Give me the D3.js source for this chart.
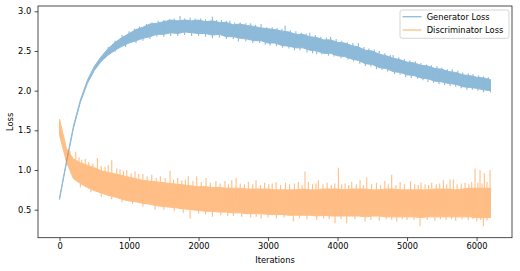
<!DOCTYPE html>
<html>
<head>
<meta charset="utf-8">
<script src="https://cdn.jsdelivr.net/npm/d3@7"></script>
<style>
    body { margin: 0; background: #fff; }
    #chart { width: 520px; height: 271px; }
    text { font-family: "DejaVu Sans", sans-serif; fill: #000; }
</style>
</head>
<body>
<div id="chart"></div>
<script>
// iteration grid the envelopes were read at
const iterations = [0, 100, 200, 300, 400, 500, 600, 700, 800, 900,
    1000, 1100, 1200, 1300, 1400, 1500, 1600, 1700, 1800, 1900,
    2000, 2100, 2200, 2300, 2400, 2500, 2600, 2700, 2800, 2900,
    3000, 3100, 3200, 3300, 3400, 3500, 3600, 3700, 3800, 3900,
    4000, 4100, 4200, 4300, 4400, 4500, 4600, 4700, 4800, 4900,
    5000, 5100, 5200, 5300, 5400, 5500, 5600, 5700, 5800, 5900,
    6000, 6100, 6200];

// generator loss, upper / lower edge of the noisy band
const genHigh = [0.65, 1.11, 1.555, 1.885, 2.13, 2.305, 2.43, 2.53, 2.61, 2.67,
    2.72, 2.77, 2.80, 2.84, 2.85, 2.87, 2.89, 2.88, 2.89, 2.88,
    2.89, 2.87, 2.88, 2.86, 2.86, 2.83, 2.84, 2.82, 2.81, 2.79,
    2.78, 2.77, 2.75, 2.74, 2.71, 2.71, 2.68, 2.67, 2.64, 2.64,
    2.61, 2.60, 2.57, 2.55, 2.51, 2.50, 2.46, 2.44, 2.41, 2.39,
    2.36, 2.35, 2.32, 2.31, 2.28, 2.27, 2.24, 2.23, 2.20, 2.19,
    2.17, 2.16, 2.14];
const genLow = [0.63, 1.09, 1.525, 1.855, 2.09, 2.255, 2.37, 2.45, 2.51, 2.56,
    2.60, 2.63, 2.66, 2.68, 2.71, 2.71, 2.73, 2.72, 2.74, 2.73,
    2.72, 2.72, 2.70, 2.71, 2.68, 2.68, 2.66, 2.65, 2.63, 2.63,
    2.60, 2.60, 2.57, 2.56, 2.54, 2.54, 2.51, 2.50, 2.47, 2.47,
    2.44, 2.43, 2.40, 2.38, 2.34, 2.33, 2.29, 2.28, 2.24, 2.23,
    2.20, 2.19, 2.16, 2.15, 2.12, 2.11, 2.09, 2.08, 2.05, 2.04,
    2.03, 2.01, 2.00];

// discriminator loss, upper / lower edge of the dense band
const discHigh = [1.64, 1.27, 1.14, 1.09, 1.06, 1.03, 0.99, 0.97, 0.95, 0.93,
    0.91, 0.89, 0.87, 0.86, 0.85, 0.84, 0.83, 0.82, 0.81, 0.80,
    0.79, 0.79, 0.78, 0.78, 0.77, 0.77, 0.77, 0.76, 0.76, 0.76,
    0.76, 0.75, 0.75, 0.75, 0.75, 0.76, 0.75, 0.75, 0.76, 0.76,
    0.76, 0.75, 0.76, 0.76, 0.76, 0.75, 0.75, 0.76, 0.76, 0.75,
    0.75, 0.75, 0.75, 0.75, 0.76, 0.76, 0.76, 0.75, 0.76, 0.77,
    0.77, 0.77, 0.77];
const discLow = [1.44, 1.10, 0.89, 0.83, 0.78, 0.74, 0.71, 0.68, 0.66, 0.63,
    0.61, 0.60, 0.58, 0.57, 0.55, 0.54, 0.53, 0.52, 0.51, 0.50,
    0.49, 0.48, 0.48, 0.47, 0.47, 0.46, 0.46, 0.45, 0.45, 0.45,
    0.44, 0.44, 0.44, 0.43, 0.43, 0.43, 0.43, 0.42, 0.43, 0.42,
    0.42, 0.42, 0.42, 0.42, 0.41, 0.42, 0.42, 0.41, 0.41, 0.41,
    0.41, 0.41, 0.40, 0.41, 0.41, 0.41, 0.41, 0.41, 0.41, 0.41,
    0.40, 0.40, 0.40];

// single spikes sticking out of the bands: [iteration, loss]
const genSpikesUp = [[700, 2.55], [800, 2.63], [900, 2.70], [1000, 2.75], [1080, 2.78],
    [1150, 2.81], [1250, 2.84], [1330, 2.86], [1420, 2.88], [1500, 2.89], [1580, 2.90],
    [1650, 2.91], [1734, 2.94], [1800, 2.91], [1880, 2.92], [1950, 2.91], [2030, 2.91],
    [2100, 2.90], [2199, 2.93], [2260, 2.89], [2330, 2.89], [2400, 2.88], [2450, 2.88],
    [2520, 2.86], [2600, 2.86], [2680, 2.85], [2750, 2.85], [2820, 2.83], [2900, 2.84],
    [2980, 2.80], [3060, 2.80], [3130, 2.79], [3200, 2.78], [3245, 2.82], [3320, 2.76],
    [3400, 2.75], [3480, 2.73], [3550, 2.72], [3600, 2.73], [3680, 2.70], [3760, 2.68],
    [3840, 2.67], [3900, 2.68], [3980, 2.65], [4060, 2.63], [4140, 2.61], [4220, 2.60],
    [4300, 2.60], [4380, 2.55], [4450, 2.53], [4530, 2.52], [4600, 2.50], [4680, 2.47],
    [4760, 2.45], [4800, 2.45], [4880, 2.42], [4960, 2.40], [5040, 2.38], [5120, 2.37],
    [5200, 2.35], [5280, 2.33], [5350, 2.32], [5430, 2.31], [5500, 2.29], [5580, 2.27],
    [5650, 2.27], [5730, 2.25], [5800, 2.23], [5880, 2.22], [5950, 2.21], [6030, 2.19],
    [6100, 2.18], [6170, 2.17]];
const genSpikesDown = [[800, 2.49], [950, 2.55], [1100, 2.60], [1200, 2.63], [1300, 2.65],
    [1400, 2.68], [1500, 2.68], [1600, 2.69], [1700, 2.69], [1800, 2.70], [1900, 2.69],
    [2000, 2.69], [2100, 2.68], [2200, 2.66], [2300, 2.67], [2400, 2.65], [2500, 2.65],
    [2573, 2.62], [2680, 2.62], [2780, 2.60], [2880, 2.60], [2960, 2.58], [3029, 2.57],
    [3120, 2.56], [3210, 2.54], [3300, 2.53], [3380, 2.51], [3460, 2.51], [3560, 2.48],
    [3640, 2.47], [3700, 2.46], [3773, 2.46], [3870, 2.44], [3950, 2.43], [4050, 2.41],
    [4150, 2.39], [4230, 2.37], [4320, 2.34], [4400, 2.31], [4480, 2.30], [4560, 2.27],
    [4640, 2.26], [4720, 2.24], [4820, 2.21], [4900, 2.20], [4980, 2.17], [5060, 2.16],
    [5150, 2.15], [5230, 2.13], [5300, 2.11], [5380, 2.10], [5460, 2.08], [5540, 2.07],
    [5620, 2.06], [5700, 2.05], [5780, 2.03], [5860, 2.01], [5940, 2.01], [6020, 2.00],
    [6100, 1.98], [6200, 1.98]];

const discSpikesUp = [[150, 1.24], [233, 1.23], [280, 1.16], [319, 1.13], [370, 1.14],
    [420, 1.10], [480, 1.08], [544, 1.15], [600, 1.05], [655, 1.04], [700, 1.06],
    [751, 1.13], [823, 1.02], [870, 1.01], [920, 0.99], [967, 1.00], [1030, 0.96],
    [1086, 0.98], [1140, 0.95], [1200, 0.95], [1260, 0.92], [1327, 0.94], [1390, 0.90],
    [1450, 0.92], [1520, 0.90], [1590, 0.99], [1640, 0.88], [1700, 0.90], [1760, 0.87],
    [1810, 0.88], [1853, 0.92], [1920, 0.86], [1974, 0.92], [2040, 0.85], [2108, 0.90],
    [2170, 0.84], [2250, 0.86], [2310, 0.83], [2380, 0.86], [2430, 0.82], [2478, 0.87],
    [2540, 0.90], [2600, 0.83], [2660, 0.82], [2717, 0.85], [2780, 0.82], [2827, 0.87],
    [2890, 0.81], [2950, 0.84], [3010, 0.82], [3060, 0.83], [3115, 0.85], [3180, 0.81],
    [3250, 0.84], [3310, 0.82], [3380, 0.83], [3436, 0.85], [3490, 0.81], [3532, 0.98],
    [3580, 0.85], [3640, 0.82], [3690, 0.83], [3724, 0.87], [3790, 0.82], [3850, 0.84],
    [3910, 0.81], [3960, 0.83], [4012, 1.03], [4060, 0.82], [4108, 0.83], [4160, 0.81],
    [4204, 0.85], [4270, 0.82], [4324, 0.87], [4370, 0.81], [4420, 0.91], [4490, 0.82],
    [4560, 0.84], [4620, 0.81], [4680, 0.86], [4730, 0.82], [4779, 0.94], [4840, 0.81],
    [4900, 0.85], [4960, 0.82], [5050, 0.86], [5110, 0.82], [5160, 0.81], [5200, 0.84],
    [5260, 0.82], [5310, 0.81], [5355, 0.84], [5420, 0.82], [5470, 0.83], [5523, 0.87],
    [5570, 0.82], [5619, 0.88], [5666, 0.88], [5720, 0.82], [5780, 0.83], [5835, 0.84],
    [5890, 0.82], [5930, 0.85], [5978, 1.02], [6020, 0.84], [6050, 1.00], [6080, 0.83],
    [6112, 0.96], [6150, 0.85], [6194, 1.00]];
const discSpikesDown = [[300, 0.78], [450, 0.72], [600, 0.66], [750, 0.63], [900, 0.59],
    [1050, 0.57], [1200, 0.54], [1374, 0.50], [1500, 0.50], [1650, 0.48], [1780, 0.46],
    [1878, 0.39], [2000, 0.45], [2100, 0.44], [2200, 0.41], [2320, 0.43], [2420, 0.42],
    [2501, 0.42], [2620, 0.41], [2750, 0.40], [2830, 0.41], [2900, 0.39], [3000, 0.40],
    [3120, 0.39], [3230, 0.40], [3364, 0.35], [3450, 0.39], [3560, 0.38], [3700, 0.37],
    [3800, 0.39], [3880, 0.38], [3964, 0.33], [4050, 0.38], [4132, 0.33], [4250, 0.38],
    [4396, 0.35], [4480, 0.37], [4600, 0.36], [4700, 0.38], [4780, 0.37], [4852, 0.35],
    [4930, 0.38], [5000, 0.37], [5100, 0.37], [5187, 0.29], [5290, 0.37], [5400, 0.36],
    [5480, 0.38], [5560, 0.37], [5640, 0.38], [5700, 0.36], [5790, 0.38], [5880, 0.37],
    [5950, 0.38], [6003, 0.35], [6060, 0.37], [6098, 0.29], [6150, 0.36]];

const xTicks = [0, 1000, 2000, 3000, 4000, 5000, 6000];
const yTicks = [0.5, 1.0, 1.5, 2.0, 2.5, 3.0];
const seriesNames = ["Generator Loss", "Discriminator Loss"];
const seriesColors = ["#1f77b4", "#ff7f0e"];

class LossChart {
    constructor(parentElement) {
        this.parentElement = parentElement;
        this.initVis();
    }

    initVis() {
        let vis = this;

        vis.margin = {top: 6, right: 8, bottom: 33.3, left: 38};
        vis.width = 520 - vis.margin.left - vis.margin.right;
        vis.height = 271 - vis.margin.top - vis.margin.bottom;

        vis.svg = d3.select("#" + vis.parentElement).append("svg")
            .attr("width", 520)
            .attr("height", 271)
            .append("g")
            .attr("transform", "translate(" + vis.margin.left + "," + vis.margin.top + ")");

        // matplotlib style 5% margins around 0..6200 and 0.28..2.94
        vis.x = d3.scaleLinear().domain([-310, 6510]).range([0, vis.width]);
        vis.y = d3.scaleLinear().domain([0.147, 3.067]).range([vis.height, 0]);

        vis.xAxis = d3.axisBottom(vis.x).tickValues(xTicks).tickSize(3.4).tickPadding(2.3)
            .tickFormat(d3.format("d"));
        vis.yAxis = d3.axisLeft(vis.y).tickValues(yTicks).tickSize(3.4).tickPadding(3.3)
            .tickFormat(d3.format(".1f"));

        vis.updateVis();
    }

    drawSeries(color, high, low, spikes) {
        let vis = this;
        // one group per series so the 0.5 alpha does not stack inside it
        let g = vis.svg.append("g").attr("opacity", 0.5);

        let band = iterations.map((it, i) => ({it: it, hi: high[i], lo: low[i]}));
        let area = d3.area()
            .x(d => vis.x(d.it))
            .y0(d => vis.y(d.lo))
            .y1(d => vis.y(d.hi));

        g.append("path")
            .datum(band)
            .attr("d", area)
            .attr("fill", color)
            .attr("stroke", color)
            .attr("stroke-width", 1);

        let spikeData = spikes.map(s => {
            let k = Math.min(Math.round(s[0] / 100), iterations.length - 1);
            return {it: s[0], v: s[1], base: (high[k] + low[k]) / 2};
        });

        g.selectAll(".spike")
            .data(spikeData)
            .enter().append("line")
            .attr("class", "spike")
            .attr("x1", d => vis.x(d.it))
            .attr("x2", d => vis.x(d.it))
            .attr("y1", d => vis.y(d.base))
            .attr("y2", d => vis.y(d.v))
            .attr("stroke", color)
            .attr("stroke-width", 1.1);
    }

    updateVis() {
        let vis = this;

        vis.drawSeries(seriesColors[0], genHigh, genLow, genSpikesUp.concat(genSpikesDown));
        vis.drawSeries(seriesColors[1], discHigh, discLow, discSpikesUp.concat(discSpikesDown));

        let xg = vis.svg.append("g")
            .attr("class", "x-axis axis")
            .attr("transform", `translate(0,${vis.height})`)
            .call(vis.xAxis);
        let yg = vis.svg.append("g")
            .attr("class", "y-axis axis")
            .call(vis.yAxis);

        [xg, yg].forEach(a => {
            a.select(".domain").remove();
            a.selectAll(".tick line").attr("stroke", "#000").attr("stroke-width", 0.7);
            a.selectAll(".tick text")
                .attr("fill", "#000")
                .style("font-family", "DejaVu Sans")
                .style("font-size", "8.3px");
        });

        // frame
        vis.svg.append("rect")
            .attr("width", vis.width)
            .attr("height", vis.height)
            .attr("fill", "none")
            .attr("stroke", "#222")
            .attr("stroke-width", 0.8);

        vis.svg.append("text")
            .attr("x", vis.width / 2)
            .attr("y", vis.height + 24.8)
            .attr("text-anchor", "middle")
            .style("font-size", "8.3px")
            .text("Iterations");

        vis.svg.append("text")
            .attr("transform", `translate(${-24.7},${vis.height / 2}) rotate(-90)`)
            .attr("text-anchor", "middle")
            .style("font-size", "8.3px")
            .text("Loss");

        // legend
        let legend = vis.svg.append("g")
            .attr("transform", `translate(${vis.width - 112},4)`);
        legend.append("rect")
            .attr("width", 109)
            .attr("height", 28.3)
            .attr("rx", 2)
            .attr("fill", "#fff")
            .attr("fill-opacity", 0.8)
            .attr("stroke", "#ccc")
            .attr("stroke-width", 0.8);

        seriesNames.forEach((name, i) => {
            let row = legend.append("g").attr("transform", `translate(0,${6.7 + i * 13.3})`);
            row.append("line")
                .attr("x1", 2.5).attr("x2", 21.5)
                .attr("stroke", seriesColors[i])
                .attr("stroke-opacity", 0.5)
                .attr("stroke-width", 1.3);
            row.append("text")
                .attr("x", 26.7)
                .attr("dy", "0.36em")
                .style("font-size", "8.3px")
                .text(name);
        });
    }
}

new LossChart("chart");
</script>
</body>
</html>
